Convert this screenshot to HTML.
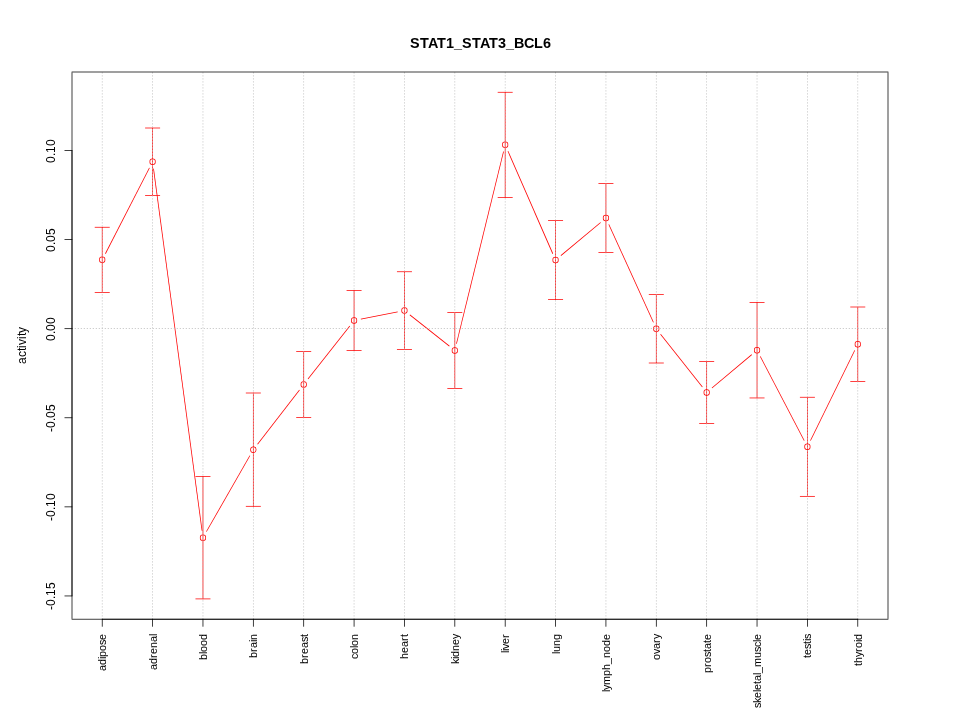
<!DOCTYPE html>
<html><head><meta charset="utf-8"><title>STAT1_STAT3_BCL6</title>
<style>html,body{margin:0;padding:0;background:#fff;}body{width:960px;height:720px;overflow:hidden;}#w{width:960px;height:720px;will-change:transform;}svg{display:block;}text{font-family:"Liberation Sans",sans-serif;fill:#000;}</style></head><body><div id="w">
<svg width="960" height="720">
<g fill="#ff0000" fill-rule="evenodd" stroke="none">
<path d="M105.71 253.88L149.77 168.06L149.11 167.72L105.04 253.54Z"/>
<path d="M153.14 168.64L201.67 530.86L202.42 530.76L153.88 168.54Z"/>
<path d="M206.72 531.85L250.23 455.82L249.58 455.45L206.07 531.48Z"/>
<path d="M257.85 444.42L299.78 390.14L299.19 389.68L257.25 443.96Z"/>
<path d="M308.27 379.26L350.10 326.15L349.51 325.69L307.68 378.80Z"/>
<path d="M360.92 319.54L397.75 312.30L397.60 311.56L360.77 318.80Z"/>
<path d="M409.62 315.18L449.17 346.46L449.64 345.87L410.09 314.59Z"/>
<path d="M456.82 343.84L503.91 151.59L503.18 151.41L456.09 343.66Z"/>
<path d="M507.60 151.27L552.45 253.88L553.14 253.58L508.29 150.97Z"/>
<path d="M561.09 255.92L600.87 222.71L600.39 222.13L560.61 255.34Z"/>
<path d="M608.44 224.44L653.10 322.62L653.78 322.31L609.12 224.13Z"/>
<path d="M660.28 334.39L702.09 387.22L702.68 386.76L660.87 333.93Z"/>
<path d="M712.20 388.26L751.99 354.92L751.51 354.34L711.71 387.68Z"/>
<path d="M759.90 356.49L803.88 440.81L804.55 440.46L760.56 356.14Z"/>
<path d="M810.79 440.72L855.07 350.61L854.40 350.28L810.11 440.39Z"/>
<path d="M99.15 259.85a3.08 3.08 0 1 0 6.15 0a3.08 3.08 0 1 0 -6.15 0ZM99.90 259.85a2.33 2.33 0 1 0 4.65 0a2.33 2.33 0 1 0 -4.65 0Z"/>
<path d="M149.52 161.75a3.08 3.08 0 1 0 6.15 0a3.08 3.08 0 1 0 -6.15 0ZM150.27 161.75a2.33 2.33 0 1 0 4.65 0a2.33 2.33 0 1 0 -4.65 0Z"/>
<path d="M199.89 537.65a3.08 3.08 0 1 0 6.15 0a3.08 3.08 0 1 0 -6.15 0ZM200.64 537.65a2.33 2.33 0 1 0 4.65 0a2.33 2.33 0 1 0 -4.65 0Z"/>
<path d="M250.26 449.65a3.08 3.08 0 1 0 6.15 0a3.08 3.08 0 1 0 -6.15 0ZM251.01 449.65a2.33 2.33 0 1 0 4.65 0a2.33 2.33 0 1 0 -4.65 0Z"/>
<path d="M300.63 384.45a3.08 3.08 0 1 0 6.15 0a3.08 3.08 0 1 0 -6.15 0ZM301.38 384.45a2.33 2.33 0 1 0 4.65 0a2.33 2.33 0 1 0 -4.65 0Z"/>
<path d="M351.00 320.50a3.08 3.08 0 1 0 6.15 0a3.08 3.08 0 1 0 -6.15 0ZM351.75 320.50a2.33 2.33 0 1 0 4.65 0a2.33 2.33 0 1 0 -4.65 0Z"/>
<path d="M401.37 310.60a3.08 3.08 0 1 0 6.15 0a3.08 3.08 0 1 0 -6.15 0ZM402.12 310.60a2.33 2.33 0 1 0 4.65 0a2.33 2.33 0 1 0 -4.65 0Z"/>
<path d="M451.74 350.45a3.08 3.08 0 1 0 6.15 0a3.08 3.08 0 1 0 -6.15 0ZM452.49 350.45a2.33 2.33 0 1 0 4.65 0a2.33 2.33 0 1 0 -4.65 0Z"/>
<path d="M502.11 144.80a3.08 3.08 0 1 0 6.15 0a3.08 3.08 0 1 0 -6.15 0ZM502.86 144.80a2.33 2.33 0 1 0 4.65 0a2.33 2.33 0 1 0 -4.65 0Z"/>
<path d="M552.48 260.05a3.08 3.08 0 1 0 6.15 0a3.08 3.08 0 1 0 -6.15 0ZM553.23 260.05a2.33 2.33 0 1 0 4.65 0a2.33 2.33 0 1 0 -4.65 0Z"/>
<path d="M602.85 218.00a3.08 3.08 0 1 0 6.15 0a3.08 3.08 0 1 0 -6.15 0ZM603.60 218.00a2.33 2.33 0 1 0 4.65 0a2.33 2.33 0 1 0 -4.65 0Z"/>
<path d="M653.22 328.75a3.08 3.08 0 1 0 6.15 0a3.08 3.08 0 1 0 -6.15 0ZM653.97 328.75a2.33 2.33 0 1 0 4.65 0a2.33 2.33 0 1 0 -4.65 0Z"/>
<path d="M703.59 392.40a3.08 3.08 0 1 0 6.15 0a3.08 3.08 0 1 0 -6.15 0ZM704.34 392.40a2.33 2.33 0 1 0 4.65 0a2.33 2.33 0 1 0 -4.65 0Z"/>
<path d="M753.96 350.20a3.08 3.08 0 1 0 6.15 0a3.08 3.08 0 1 0 -6.15 0ZM754.71 350.20a2.33 2.33 0 1 0 4.65 0a2.33 2.33 0 1 0 -4.65 0Z"/>
<path d="M804.33 446.75a3.08 3.08 0 1 0 6.15 0a3.08 3.08 0 1 0 -6.15 0ZM805.08 446.75a2.33 2.33 0 1 0 4.65 0a2.33 2.33 0 1 0 -4.65 0Z"/>
<path d="M854.70 344.25a3.08 3.08 0 1 0 6.15 0a3.08 3.08 0 1 0 -6.15 0ZM855.45 344.25a2.33 2.33 0 1 0 4.65 0a2.33 2.33 0 1 0 -4.65 0Z"/>
<rect x="101.847" y="226.950" width="0.75" height="65.850"/><rect x="94.722" y="292.125" width="15.000" height="0.75"/><rect x="94.722" y="226.875" width="15.000" height="0.75"/>
<rect x="152.218" y="127.700" width="0.75" height="68.100"/><rect x="145.093" y="195.125" width="15.000" height="0.75"/><rect x="145.093" y="127.625" width="15.000" height="0.75"/>
<rect x="202.588" y="476.150" width="0.75" height="123.050"/><rect x="195.463" y="598.525" width="15.000" height="0.75"/><rect x="195.463" y="476.075" width="15.000" height="0.75"/>
<rect x="252.958" y="392.700" width="0.75" height="113.900"/><rect x="245.833" y="505.925" width="15.000" height="0.75"/><rect x="245.833" y="392.625" width="15.000" height="0.75"/>
<rect x="303.329" y="351.200" width="0.75" height="66.550"/><rect x="296.204" y="417.075" width="15.000" height="0.75"/><rect x="296.204" y="351.125" width="15.000" height="0.75"/>
<rect x="353.699" y="290.300" width="0.75" height="60.400"/><rect x="346.574" y="350.025" width="15.000" height="0.75"/><rect x="346.574" y="290.225" width="15.000" height="0.75"/>
<rect x="404.069" y="271.450" width="0.75" height="78.300"/><rect x="396.944" y="349.075" width="15.000" height="0.75"/><rect x="396.944" y="271.375" width="15.000" height="0.75"/>
<rect x="454.440" y="312.200" width="0.75" height="76.500"/><rect x="447.315" y="388.025" width="15.000" height="0.75"/><rect x="447.315" y="312.125" width="15.000" height="0.75"/>
<rect x="504.810" y="91.970" width="0.75" height="105.730"/><rect x="497.685" y="197.025" width="15.000" height="0.75"/><rect x="497.685" y="91.895" width="15.000" height="0.75"/>
<rect x="555.181" y="220.200" width="0.75" height="79.650"/><rect x="548.056" y="299.175" width="15.000" height="0.75"/><rect x="548.056" y="220.125" width="15.000" height="0.75"/>
<rect x="605.551" y="183.200" width="0.75" height="69.600"/><rect x="598.426" y="252.125" width="15.000" height="0.75"/><rect x="598.426" y="183.125" width="15.000" height="0.75"/>
<rect x="655.921" y="294.200" width="0.75" height="69.100"/><rect x="648.796" y="362.625" width="15.000" height="0.75"/><rect x="648.796" y="294.125" width="15.000" height="0.75"/>
<rect x="706.292" y="361.150" width="0.75" height="62.550"/><rect x="699.167" y="423.025" width="15.000" height="0.75"/><rect x="699.167" y="361.075" width="15.000" height="0.75"/>
<rect x="756.662" y="302.100" width="0.75" height="96.150"/><rect x="749.537" y="397.575" width="15.000" height="0.75"/><rect x="749.537" y="302.025" width="15.000" height="0.75"/>
<rect x="807.032" y="396.950" width="0.75" height="99.700"/><rect x="799.907" y="495.975" width="15.000" height="0.75"/><rect x="799.907" y="396.875" width="15.000" height="0.75"/>
<rect x="857.403" y="306.700" width="0.75" height="75.050"/><rect x="850.278" y="381.075" width="15.000" height="0.75"/><rect x="850.278" y="306.625" width="15.000" height="0.75"/>
</g>
<defs><path id="vc" d="M-0.375 618.155h0.75v1.045h-0.75zM-0.375 615.155h0.75v1.34h-0.75zM-0.375 612.155h0.75v1.34h-0.75zM-0.375 609.155h0.75v1.34h-0.75zM-0.375 606.155h0.75v1.34h-0.75zM-0.375 603.155h0.75v1.34h-0.75zM-0.375 600.155h0.75v1.34h-0.75zM-0.375 597.155h0.75v1.34h-0.75zM-0.375 594.155h0.75v1.34h-0.75zM-0.375 591.155h0.75v1.34h-0.75zM-0.375 588.155h0.75v1.34h-0.75zM-0.375 585.155h0.75v1.34h-0.75zM-0.375 582.155h0.75v1.34h-0.75zM-0.375 579.155h0.75v1.34h-0.75zM-0.375 576.155h0.75v1.34h-0.75zM-0.375 573.155h0.75v1.34h-0.75zM-0.375 570.155h0.75v1.34h-0.75zM-0.375 567.155h0.75v1.34h-0.75zM-0.375 564.155h0.75v1.34h-0.75zM-0.375 561.155h0.75v1.34h-0.75zM-0.375 558.155h0.75v1.34h-0.75zM-0.375 555.155h0.75v1.34h-0.75zM-0.375 552.155h0.75v1.34h-0.75zM-0.375 549.155h0.75v1.34h-0.75zM-0.375 546.155h0.75v1.34h-0.75zM-0.375 543.155h0.75v1.34h-0.75zM-0.375 540.155h0.75v1.34h-0.75zM-0.375 537.155h0.75v1.34h-0.75zM-0.375 534.155h0.75v1.34h-0.75zM-0.375 531.155h0.75v1.34h-0.75zM-0.375 528.155h0.75v1.34h-0.75zM-0.375 525.155h0.75v1.34h-0.75zM-0.375 522.155h0.75v1.34h-0.75zM-0.375 519.155h0.75v1.34h-0.75zM-0.375 516.155h0.75v1.34h-0.75zM-0.375 513.155h0.75v1.34h-0.75zM-0.375 510.155h0.75v1.34h-0.75zM-0.375 507.155h0.75v1.34h-0.75zM-0.375 504.155h0.75v1.34h-0.75zM-0.375 501.155h0.75v1.34h-0.75zM-0.375 498.155h0.75v1.34h-0.75zM-0.375 495.155h0.75v1.34h-0.75zM-0.375 492.155h0.75v1.34h-0.75zM-0.375 489.155h0.75v1.34h-0.75zM-0.375 486.155h0.75v1.34h-0.75zM-0.375 483.155h0.75v1.34h-0.75zM-0.375 480.155h0.75v1.34h-0.75zM-0.375 477.155h0.75v1.34h-0.75zM-0.375 474.155h0.75v1.34h-0.75zM-0.375 471.155h0.75v1.34h-0.75zM-0.375 468.155h0.75v1.34h-0.75zM-0.375 465.155h0.75v1.34h-0.75zM-0.375 462.155h0.75v1.34h-0.75zM-0.375 459.155h0.75v1.34h-0.75zM-0.375 456.155h0.75v1.34h-0.75zM-0.375 453.155h0.75v1.34h-0.75zM-0.375 450.155h0.75v1.34h-0.75zM-0.375 447.155h0.75v1.34h-0.75zM-0.375 444.155h0.75v1.34h-0.75zM-0.375 441.155h0.75v1.34h-0.75zM-0.375 438.155h0.75v1.34h-0.75zM-0.375 435.155h0.75v1.34h-0.75zM-0.375 432.155h0.75v1.34h-0.75zM-0.375 429.155h0.75v1.34h-0.75zM-0.375 426.155h0.75v1.34h-0.75zM-0.375 423.155h0.75v1.34h-0.75zM-0.375 420.155h0.75v1.34h-0.75zM-0.375 417.155h0.75v1.34h-0.75zM-0.375 414.155h0.75v1.34h-0.75zM-0.375 411.155h0.75v1.34h-0.75zM-0.375 408.155h0.75v1.34h-0.75zM-0.375 405.155h0.75v1.34h-0.75zM-0.375 402.155h0.75v1.34h-0.75zM-0.375 399.155h0.75v1.34h-0.75zM-0.375 396.155h0.75v1.34h-0.75zM-0.375 393.155h0.75v1.34h-0.75zM-0.375 390.155h0.75v1.34h-0.75zM-0.375 387.155h0.75v1.34h-0.75zM-0.375 384.155h0.75v1.34h-0.75zM-0.375 381.155h0.75v1.34h-0.75zM-0.375 378.155h0.75v1.34h-0.75zM-0.375 375.155h0.75v1.34h-0.75zM-0.375 372.155h0.75v1.34h-0.75zM-0.375 369.155h0.75v1.34h-0.75zM-0.375 366.155h0.75v1.34h-0.75zM-0.375 363.155h0.75v1.34h-0.75zM-0.375 360.155h0.75v1.34h-0.75zM-0.375 357.155h0.75v1.34h-0.75zM-0.375 354.155h0.75v1.34h-0.75zM-0.375 351.155h0.75v1.34h-0.75zM-0.375 348.155h0.75v1.34h-0.75zM-0.375 345.155h0.75v1.34h-0.75zM-0.375 342.155h0.75v1.34h-0.75zM-0.375 339.155h0.75v1.34h-0.75zM-0.375 336.155h0.75v1.34h-0.75zM-0.375 333.155h0.75v1.34h-0.75zM-0.375 330.155h0.75v1.34h-0.75zM-0.375 327.155h0.75v1.34h-0.75zM-0.375 324.155h0.75v1.34h-0.75zM-0.375 321.155h0.75v1.34h-0.75zM-0.375 318.155h0.75v1.34h-0.75zM-0.375 315.155h0.75v1.34h-0.75zM-0.375 312.155h0.75v1.34h-0.75zM-0.375 309.155h0.75v1.34h-0.75zM-0.375 306.155h0.75v1.34h-0.75zM-0.375 303.155h0.75v1.34h-0.75zM-0.375 300.155h0.75v1.34h-0.75zM-0.375 297.155h0.75v1.34h-0.75zM-0.375 294.155h0.75v1.34h-0.75zM-0.375 291.155h0.75v1.34h-0.75zM-0.375 288.155h0.75v1.34h-0.75zM-0.375 285.155h0.75v1.34h-0.75zM-0.375 282.155h0.75v1.34h-0.75zM-0.375 279.155h0.75v1.34h-0.75zM-0.375 276.155h0.75v1.34h-0.75zM-0.375 273.155h0.75v1.34h-0.75zM-0.375 270.155h0.75v1.34h-0.75zM-0.375 267.155h0.75v1.34h-0.75zM-0.375 264.155h0.75v1.34h-0.75zM-0.375 261.155h0.75v1.34h-0.75zM-0.375 258.155h0.75v1.34h-0.75zM-0.375 255.155h0.75v1.34h-0.75zM-0.375 252.155h0.75v1.34h-0.75zM-0.375 249.155h0.75v1.34h-0.75zM-0.375 246.155h0.75v1.34h-0.75zM-0.375 243.155h0.75v1.34h-0.75zM-0.375 240.155h0.75v1.34h-0.75zM-0.375 237.155h0.75v1.34h-0.75zM-0.375 234.155h0.75v1.34h-0.75zM-0.375 231.155h0.75v1.34h-0.75zM-0.375 228.155h0.75v1.34h-0.75zM-0.375 225.155h0.75v1.34h-0.75zM-0.375 222.155h0.75v1.34h-0.75zM-0.375 219.155h0.75v1.34h-0.75zM-0.375 216.155h0.75v1.34h-0.75zM-0.375 213.155h0.75v1.34h-0.75zM-0.375 210.155h0.75v1.34h-0.75zM-0.375 207.155h0.75v1.34h-0.75zM-0.375 204.155h0.75v1.34h-0.75zM-0.375 201.155h0.75v1.34h-0.75zM-0.375 198.155h0.75v1.34h-0.75zM-0.375 195.155h0.75v1.34h-0.75zM-0.375 192.155h0.75v1.34h-0.75zM-0.375 189.155h0.75v1.34h-0.75zM-0.375 186.155h0.75v1.34h-0.75zM-0.375 183.155h0.75v1.34h-0.75zM-0.375 180.155h0.75v1.34h-0.75zM-0.375 177.155h0.75v1.34h-0.75zM-0.375 174.155h0.75v1.34h-0.75zM-0.375 171.155h0.75v1.34h-0.75zM-0.375 168.155h0.75v1.34h-0.75zM-0.375 165.155h0.75v1.34h-0.75zM-0.375 162.155h0.75v1.34h-0.75zM-0.375 159.155h0.75v1.34h-0.75zM-0.375 156.155h0.75v1.34h-0.75zM-0.375 153.155h0.75v1.34h-0.75zM-0.375 150.155h0.75v1.34h-0.75zM-0.375 147.155h0.75v1.34h-0.75zM-0.375 144.155h0.75v1.34h-0.75zM-0.375 141.155h0.75v1.34h-0.75zM-0.375 138.155h0.75v1.34h-0.75zM-0.375 135.155h0.75v1.34h-0.75zM-0.375 132.155h0.75v1.34h-0.75zM-0.375 129.155h0.75v1.34h-0.75zM-0.375 126.155h0.75v1.34h-0.75zM-0.375 123.155h0.75v1.34h-0.75zM-0.375 120.155h0.75v1.34h-0.75zM-0.375 117.155h0.75v1.34h-0.75zM-0.375 114.155h0.75v1.34h-0.75zM-0.375 111.155h0.75v1.34h-0.75zM-0.375 108.155h0.75v1.34h-0.75zM-0.375 105.155h0.75v1.34h-0.75zM-0.375 102.155h0.75v1.34h-0.75zM-0.375 99.155h0.75v1.34h-0.75zM-0.375 96.155h0.75v1.34h-0.75zM-0.375 93.155h0.75v1.34h-0.75zM-0.375 90.155h0.75v1.34h-0.75zM-0.375 87.155h0.75v1.34h-0.75zM-0.375 84.155h0.75v1.34h-0.75zM-0.375 81.155h0.75v1.34h-0.75zM-0.375 78.155h0.75v1.34h-0.75zM-0.375 75.155h0.75v1.34h-0.75zM-0.375 72.155h0.75v1.34h-0.75z"/></defs>
<g fill="#bebebe" stroke="none">
<use href="#vc" x="102.22" y="0"/>
<use href="#vc" x="152.59" y="0"/>
<use href="#vc" x="202.96" y="0"/>
<use href="#vc" x="253.33" y="0"/>
<use href="#vc" x="303.70" y="0"/>
<use href="#vc" x="354.07" y="0"/>
<use href="#vc" x="404.44" y="0"/>
<use href="#vc" x="454.81" y="0"/>
<use href="#vc" x="505.19" y="0"/>
<use href="#vc" x="555.56" y="0"/>
<use href="#vc" x="605.93" y="0"/>
<use href="#vc" x="656.30" y="0"/>
<use href="#vc" x="706.67" y="0"/>
<use href="#vc" x="757.04" y="0"/>
<use href="#vc" x="807.41" y="0"/>
<use href="#vc" x="857.78" y="0"/>
<path transform="translate(0,328.68)" d="M72 -0.375h1.045v0.75h-1.045zM74.705 -0.375h1.34v0.75h-1.34zM77.705 -0.375h1.34v0.75h-1.34zM80.705 -0.375h1.34v0.75h-1.34zM83.705 -0.375h1.34v0.75h-1.34zM86.705 -0.375h1.34v0.75h-1.34zM89.705 -0.375h1.34v0.75h-1.34zM92.705 -0.375h1.34v0.75h-1.34zM95.705 -0.375h1.34v0.75h-1.34zM98.705 -0.375h1.34v0.75h-1.34zM101.705 -0.375h1.34v0.75h-1.34zM104.705 -0.375h1.34v0.75h-1.34zM107.705 -0.375h1.34v0.75h-1.34zM110.705 -0.375h1.34v0.75h-1.34zM113.705 -0.375h1.34v0.75h-1.34zM116.705 -0.375h1.34v0.75h-1.34zM119.705 -0.375h1.34v0.75h-1.34zM122.705 -0.375h1.34v0.75h-1.34zM125.705 -0.375h1.34v0.75h-1.34zM128.705 -0.375h1.34v0.75h-1.34zM131.705 -0.375h1.34v0.75h-1.34zM134.705 -0.375h1.34v0.75h-1.34zM137.705 -0.375h1.34v0.75h-1.34zM140.705 -0.375h1.34v0.75h-1.34zM143.705 -0.375h1.34v0.75h-1.34zM146.705 -0.375h1.34v0.75h-1.34zM149.705 -0.375h1.34v0.75h-1.34zM152.705 -0.375h1.34v0.75h-1.34zM155.705 -0.375h1.34v0.75h-1.34zM158.705 -0.375h1.34v0.75h-1.34zM161.705 -0.375h1.34v0.75h-1.34zM164.705 -0.375h1.34v0.75h-1.34zM167.705 -0.375h1.34v0.75h-1.34zM170.705 -0.375h1.34v0.75h-1.34zM173.705 -0.375h1.34v0.75h-1.34zM176.705 -0.375h1.34v0.75h-1.34zM179.705 -0.375h1.34v0.75h-1.34zM182.705 -0.375h1.34v0.75h-1.34zM185.705 -0.375h1.34v0.75h-1.34zM188.705 -0.375h1.34v0.75h-1.34zM191.705 -0.375h1.34v0.75h-1.34zM194.705 -0.375h1.34v0.75h-1.34zM197.705 -0.375h1.34v0.75h-1.34zM200.705 -0.375h1.34v0.75h-1.34zM203.705 -0.375h1.34v0.75h-1.34zM206.705 -0.375h1.34v0.75h-1.34zM209.705 -0.375h1.34v0.75h-1.34zM212.705 -0.375h1.34v0.75h-1.34zM215.705 -0.375h1.34v0.75h-1.34zM218.705 -0.375h1.34v0.75h-1.34zM221.705 -0.375h1.34v0.75h-1.34zM224.705 -0.375h1.34v0.75h-1.34zM227.705 -0.375h1.34v0.75h-1.34zM230.705 -0.375h1.34v0.75h-1.34zM233.705 -0.375h1.34v0.75h-1.34zM236.705 -0.375h1.34v0.75h-1.34zM239.705 -0.375h1.34v0.75h-1.34zM242.705 -0.375h1.34v0.75h-1.34zM245.705 -0.375h1.34v0.75h-1.34zM248.705 -0.375h1.34v0.75h-1.34zM251.705 -0.375h1.34v0.75h-1.34zM254.705 -0.375h1.34v0.75h-1.34zM257.705 -0.375h1.34v0.75h-1.34zM260.705 -0.375h1.34v0.75h-1.34zM263.705 -0.375h1.34v0.75h-1.34zM266.705 -0.375h1.34v0.75h-1.34zM269.705 -0.375h1.34v0.75h-1.34zM272.705 -0.375h1.34v0.75h-1.34zM275.705 -0.375h1.34v0.75h-1.34zM278.705 -0.375h1.34v0.75h-1.34zM281.705 -0.375h1.34v0.75h-1.34zM284.705 -0.375h1.34v0.75h-1.34zM287.705 -0.375h1.34v0.75h-1.34zM290.705 -0.375h1.34v0.75h-1.34zM293.705 -0.375h1.34v0.75h-1.34zM296.705 -0.375h1.34v0.75h-1.34zM299.705 -0.375h1.34v0.75h-1.34zM302.705 -0.375h1.34v0.75h-1.34zM305.705 -0.375h1.34v0.75h-1.34zM308.705 -0.375h1.34v0.75h-1.34zM311.705 -0.375h1.34v0.75h-1.34zM314.705 -0.375h1.34v0.75h-1.34zM317.705 -0.375h1.34v0.75h-1.34zM320.705 -0.375h1.34v0.75h-1.34zM323.705 -0.375h1.34v0.75h-1.34zM326.705 -0.375h1.34v0.75h-1.34zM329.705 -0.375h1.34v0.75h-1.34zM332.705 -0.375h1.34v0.75h-1.34zM335.705 -0.375h1.34v0.75h-1.34zM338.705 -0.375h1.34v0.75h-1.34zM341.705 -0.375h1.34v0.75h-1.34zM344.705 -0.375h1.34v0.75h-1.34zM347.705 -0.375h1.34v0.75h-1.34zM350.705 -0.375h1.34v0.75h-1.34zM353.705 -0.375h1.34v0.75h-1.34zM356.705 -0.375h1.34v0.75h-1.34zM359.705 -0.375h1.34v0.75h-1.34zM362.705 -0.375h1.34v0.75h-1.34zM365.705 -0.375h1.34v0.75h-1.34zM368.705 -0.375h1.34v0.75h-1.34zM371.705 -0.375h1.34v0.75h-1.34zM374.705 -0.375h1.34v0.75h-1.34zM377.705 -0.375h1.34v0.75h-1.34zM380.705 -0.375h1.34v0.75h-1.34zM383.705 -0.375h1.34v0.75h-1.34zM386.705 -0.375h1.34v0.75h-1.34zM389.705 -0.375h1.34v0.75h-1.34zM392.705 -0.375h1.34v0.75h-1.34zM395.705 -0.375h1.34v0.75h-1.34zM398.705 -0.375h1.34v0.75h-1.34zM401.705 -0.375h1.34v0.75h-1.34zM404.705 -0.375h1.34v0.75h-1.34zM407.705 -0.375h1.34v0.75h-1.34zM410.705 -0.375h1.34v0.75h-1.34zM413.705 -0.375h1.34v0.75h-1.34zM416.705 -0.375h1.34v0.75h-1.34zM419.705 -0.375h1.34v0.75h-1.34zM422.705 -0.375h1.34v0.75h-1.34zM425.705 -0.375h1.34v0.75h-1.34zM428.705 -0.375h1.34v0.75h-1.34zM431.705 -0.375h1.34v0.75h-1.34zM434.705 -0.375h1.34v0.75h-1.34zM437.705 -0.375h1.34v0.75h-1.34zM440.705 -0.375h1.34v0.75h-1.34zM443.705 -0.375h1.34v0.75h-1.34zM446.705 -0.375h1.34v0.75h-1.34zM449.705 -0.375h1.34v0.75h-1.34zM452.705 -0.375h1.34v0.75h-1.34zM455.705 -0.375h1.34v0.75h-1.34zM458.705 -0.375h1.34v0.75h-1.34zM461.705 -0.375h1.34v0.75h-1.34zM464.705 -0.375h1.34v0.75h-1.34zM467.705 -0.375h1.34v0.75h-1.34zM470.705 -0.375h1.34v0.75h-1.34zM473.705 -0.375h1.34v0.75h-1.34zM476.705 -0.375h1.34v0.75h-1.34zM479.705 -0.375h1.34v0.75h-1.34zM482.705 -0.375h1.34v0.75h-1.34zM485.705 -0.375h1.34v0.75h-1.34zM488.705 -0.375h1.34v0.75h-1.34zM491.705 -0.375h1.34v0.75h-1.34zM494.705 -0.375h1.34v0.75h-1.34zM497.705 -0.375h1.34v0.75h-1.34zM500.705 -0.375h1.34v0.75h-1.34zM503.705 -0.375h1.34v0.75h-1.34zM506.705 -0.375h1.34v0.75h-1.34zM509.705 -0.375h1.34v0.75h-1.34zM512.705 -0.375h1.34v0.75h-1.34zM515.705 -0.375h1.34v0.75h-1.34zM518.705 -0.375h1.34v0.75h-1.34zM521.705 -0.375h1.34v0.75h-1.34zM524.705 -0.375h1.34v0.75h-1.34zM527.705 -0.375h1.34v0.75h-1.34zM530.705 -0.375h1.34v0.75h-1.34zM533.705 -0.375h1.34v0.75h-1.34zM536.705 -0.375h1.34v0.75h-1.34zM539.705 -0.375h1.34v0.75h-1.34zM542.705 -0.375h1.34v0.75h-1.34zM545.705 -0.375h1.34v0.75h-1.34zM548.705 -0.375h1.34v0.75h-1.34zM551.705 -0.375h1.34v0.75h-1.34zM554.705 -0.375h1.34v0.75h-1.34zM557.705 -0.375h1.34v0.75h-1.34zM560.705 -0.375h1.34v0.75h-1.34zM563.705 -0.375h1.34v0.75h-1.34zM566.705 -0.375h1.34v0.75h-1.34zM569.705 -0.375h1.34v0.75h-1.34zM572.705 -0.375h1.34v0.75h-1.34zM575.705 -0.375h1.34v0.75h-1.34zM578.705 -0.375h1.34v0.75h-1.34zM581.705 -0.375h1.34v0.75h-1.34zM584.705 -0.375h1.34v0.75h-1.34zM587.705 -0.375h1.34v0.75h-1.34zM590.705 -0.375h1.34v0.75h-1.34zM593.705 -0.375h1.34v0.75h-1.34zM596.705 -0.375h1.34v0.75h-1.34zM599.705 -0.375h1.34v0.75h-1.34zM602.705 -0.375h1.34v0.75h-1.34zM605.705 -0.375h1.34v0.75h-1.34zM608.705 -0.375h1.34v0.75h-1.34zM611.705 -0.375h1.34v0.75h-1.34zM614.705 -0.375h1.34v0.75h-1.34zM617.705 -0.375h1.34v0.75h-1.34zM620.705 -0.375h1.34v0.75h-1.34zM623.705 -0.375h1.34v0.75h-1.34zM626.705 -0.375h1.34v0.75h-1.34zM629.705 -0.375h1.34v0.75h-1.34zM632.705 -0.375h1.34v0.75h-1.34zM635.705 -0.375h1.34v0.75h-1.34zM638.705 -0.375h1.34v0.75h-1.34zM641.705 -0.375h1.34v0.75h-1.34zM644.705 -0.375h1.34v0.75h-1.34zM647.705 -0.375h1.34v0.75h-1.34zM650.705 -0.375h1.34v0.75h-1.34zM653.705 -0.375h1.34v0.75h-1.34zM656.705 -0.375h1.34v0.75h-1.34zM659.705 -0.375h1.34v0.75h-1.34zM662.705 -0.375h1.34v0.75h-1.34zM665.705 -0.375h1.34v0.75h-1.34zM668.705 -0.375h1.34v0.75h-1.34zM671.705 -0.375h1.34v0.75h-1.34zM674.705 -0.375h1.34v0.75h-1.34zM677.705 -0.375h1.34v0.75h-1.34zM680.705 -0.375h1.34v0.75h-1.34zM683.705 -0.375h1.34v0.75h-1.34zM686.705 -0.375h1.34v0.75h-1.34zM689.705 -0.375h1.34v0.75h-1.34zM692.705 -0.375h1.34v0.75h-1.34zM695.705 -0.375h1.34v0.75h-1.34zM698.705 -0.375h1.34v0.75h-1.34zM701.705 -0.375h1.34v0.75h-1.34zM704.705 -0.375h1.34v0.75h-1.34zM707.705 -0.375h1.34v0.75h-1.34zM710.705 -0.375h1.34v0.75h-1.34zM713.705 -0.375h1.34v0.75h-1.34zM716.705 -0.375h1.34v0.75h-1.34zM719.705 -0.375h1.34v0.75h-1.34zM722.705 -0.375h1.34v0.75h-1.34zM725.705 -0.375h1.34v0.75h-1.34zM728.705 -0.375h1.34v0.75h-1.34zM731.705 -0.375h1.34v0.75h-1.34zM734.705 -0.375h1.34v0.75h-1.34zM737.705 -0.375h1.34v0.75h-1.34zM740.705 -0.375h1.34v0.75h-1.34zM743.705 -0.375h1.34v0.75h-1.34zM746.705 -0.375h1.34v0.75h-1.34zM749.705 -0.375h1.34v0.75h-1.34zM752.705 -0.375h1.34v0.75h-1.34zM755.705 -0.375h1.34v0.75h-1.34zM758.705 -0.375h1.34v0.75h-1.34zM761.705 -0.375h1.34v0.75h-1.34zM764.705 -0.375h1.34v0.75h-1.34zM767.705 -0.375h1.34v0.75h-1.34zM770.705 -0.375h1.34v0.75h-1.34zM773.705 -0.375h1.34v0.75h-1.34zM776.705 -0.375h1.34v0.75h-1.34zM779.705 -0.375h1.34v0.75h-1.34zM782.705 -0.375h1.34v0.75h-1.34zM785.705 -0.375h1.34v0.75h-1.34zM788.705 -0.375h1.34v0.75h-1.34zM791.705 -0.375h1.34v0.75h-1.34zM794.705 -0.375h1.34v0.75h-1.34zM797.705 -0.375h1.34v0.75h-1.34zM800.705 -0.375h1.34v0.75h-1.34zM803.705 -0.375h1.34v0.75h-1.34zM806.705 -0.375h1.34v0.75h-1.34zM809.705 -0.375h1.34v0.75h-1.34zM812.705 -0.375h1.34v0.75h-1.34zM815.705 -0.375h1.34v0.75h-1.34zM818.705 -0.375h1.34v0.75h-1.34zM821.705 -0.375h1.34v0.75h-1.34zM824.705 -0.375h1.34v0.75h-1.34zM827.705 -0.375h1.34v0.75h-1.34zM830.705 -0.375h1.34v0.75h-1.34zM833.705 -0.375h1.34v0.75h-1.34zM836.705 -0.375h1.34v0.75h-1.34zM839.705 -0.375h1.34v0.75h-1.34zM842.705 -0.375h1.34v0.75h-1.34zM845.705 -0.375h1.34v0.75h-1.34zM848.705 -0.375h1.34v0.75h-1.34zM851.705 -0.375h1.34v0.75h-1.34zM854.705 -0.375h1.34v0.75h-1.34zM857.705 -0.375h1.34v0.75h-1.34zM860.705 -0.375h1.34v0.75h-1.34zM863.705 -0.375h1.34v0.75h-1.34zM866.705 -0.375h1.34v0.75h-1.34zM869.705 -0.375h1.34v0.75h-1.34zM872.705 -0.375h1.34v0.75h-1.34zM875.705 -0.375h1.34v0.75h-1.34zM878.705 -0.375h1.34v0.75h-1.34zM881.705 -0.375h1.34v0.75h-1.34zM884.705 -0.375h1.34v0.75h-1.34zM887.705 -0.375h0.295v0.75h-0.295z"/>
</g>
<g fill="#000" stroke="none">
<rect x="71.625" y="71.625" width="816.75" height="0.75"/><rect x="71.625" y="618.825" width="816.75" height="0.75"/><rect x="71.625" y="72.375" width="0.75" height="546.45"/><rect x="887.625" y="72.375" width="0.75" height="546.45"/>
<rect x="101.922" y="618.825" width="756.156" height="0.75"/>
<rect x="101.847" y="618.900" width="0.75" height="7.800"/>
<rect x="152.218" y="618.900" width="0.75" height="7.800"/>
<rect x="202.588" y="618.900" width="0.75" height="7.800"/>
<rect x="252.958" y="618.900" width="0.75" height="7.800"/>
<rect x="303.329" y="618.900" width="0.75" height="7.800"/>
<rect x="353.699" y="618.900" width="0.75" height="7.800"/>
<rect x="404.069" y="618.900" width="0.75" height="7.800"/>
<rect x="454.440" y="618.900" width="0.75" height="7.800"/>
<rect x="504.810" y="618.900" width="0.75" height="7.800"/>
<rect x="555.181" y="618.900" width="0.75" height="7.800"/>
<rect x="605.551" y="618.900" width="0.75" height="7.800"/>
<rect x="655.921" y="618.900" width="0.75" height="7.800"/>
<rect x="706.292" y="618.900" width="0.75" height="7.800"/>
<rect x="756.662" y="618.900" width="0.75" height="7.800"/>
<rect x="807.032" y="618.900" width="0.75" height="7.800"/>
<rect x="857.403" y="618.900" width="0.75" height="7.800"/>
<rect x="71.625" y="150.200" width="0.75" height="446.050"/>
<rect x="64.500" y="150.125" width="7.800" height="0.75"/>
<rect x="64.500" y="239.215" width="7.800" height="0.75"/>
<rect x="64.500" y="328.305" width="7.800" height="0.75"/>
<rect x="64.500" y="417.395" width="7.800" height="0.75"/>
<rect x="64.500" y="506.485" width="7.800" height="0.75"/>
<rect x="64.500" y="595.575" width="7.800" height="0.75"/>
</g>
<text x="410 420 428 437 446 454 462 472 480 489 498 506 514 524 534 543" y="48.02" font-size="14.4" font-weight="bold">STAT1_STAT3_BCL6</text>
<text transform="translate(26.02,364.02) rotate(-90)" x="0 7 13 16 19 25 28 31" y="0" font-size="12">activity</text>
<text transform="translate(55.02,163.02) rotate(-90)" x="0 7 10 17" y="0" font-size="12">0.10</text>
<text transform="translate(55.02,252.02) rotate(-90)" x="0 7 10 17" y="0" font-size="12">0.05</text>
<text transform="translate(55.02,341.02) rotate(-90)" x="0 7 10 17" y="0" font-size="12">0.00</text>
<text transform="translate(55.02,432.02) rotate(-90)" x="0 4 11 14 21" y="0" font-size="12">-0.05</text>
<text transform="translate(55.02,521.02) rotate(-90)" x="0 4 11 14 21" y="0" font-size="12">-0.10</text>
<text transform="translate(55.02,610.02) rotate(-90)" x="0 4 11 14 21" y="0" font-size="12">-0.15</text>
<text transform="translate(106.02,671.02) rotate(-90)" x="0 6 12 14 20 26 31" y="0" font-size="10.8">adipose</text>
<text transform="translate(157.02,670.02) rotate(-90)" x="0 6 12 16 22 28 34" y="0" font-size="10.8">adrenal</text>
<text transform="translate(207.02,660.02) rotate(-90)" x="0 6 8 14 20" y="0" font-size="10.8">blood</text>
<text transform="translate(257.02,658.02) rotate(-90)" x="0 6 10 16 18" y="0" font-size="10.8">brain</text>
<text transform="translate(308.02,664.02) rotate(-90)" x="0 6 10 16 22 27" y="0" font-size="10.8">breast</text>
<text transform="translate(358.02,659.02) rotate(-90)" x="0 5 11 13 19" y="0" font-size="10.8">colon</text>
<text transform="translate(408.02,659.02) rotate(-90)" x="0 6 12 18 22" y="0" font-size="10.8">heart</text>
<text transform="translate(459.02,664.02) rotate(-90)" x="0 5 7 13 19 25" y="0" font-size="10.8">kidney</text>
<text transform="translate(509.02,653.02) rotate(-90)" x="0 2 4 9 15" y="0" font-size="10.8">liver</text>
<text transform="translate(560.02,654.02) rotate(-90)" x="0 2 8 14" y="0" font-size="10.8">lung</text>
<text transform="translate(610.02,692.02) rotate(-90)" x="0 2 7 16 22 28 34 40 46 52" y="0" font-size="10.8">lymph_node</text>
<text transform="translate(660.02,660.02) rotate(-90)" x="0 6 11 17 21" y="0" font-size="10.8">ovary</text>
<text transform="translate(711.02,673.02) rotate(-90)" x="0 6 10 16 21 24 30 33" y="0" font-size="10.8">prostate</text>
<text transform="translate(761.02,708.02) rotate(-90)" x="0 5 10 16 18 24 27 33 35 41 50 56 61 66 68" y="0" font-size="10.8">skeletal_muscle</text>
<text transform="translate(811.02,658.02) rotate(-90)" x="0 3 9 14 17 19" y="0" font-size="10.8">testis</text>
<text transform="translate(862.02,666.02) rotate(-90)" x="0 3 9 14 18 24 26" y="0" font-size="10.8">thyroid</text>
</svg></div></body></html>
